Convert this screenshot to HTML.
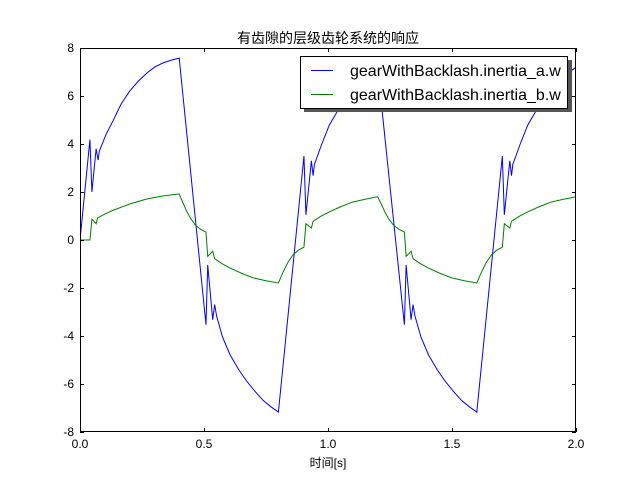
<!DOCTYPE html>
<html><head><meta charset="utf-8"><style>
html,body{margin:0;padding:0;background:#fff;}
svg text{font-family:"Liberation Sans","DejaVu Sans","Noto Sans CJK SC",sans-serif;}
</style></head><body>
<svg id="chart" width="640" height="480" xmlns="http://www.w3.org/2000/svg">
<rect width="640" height="480" fill="#fff"/>
<text x="328" y="43" font-size="14" text-anchor="middle">有齿隙的层级齿轮系统的响应</text>
<g id="plot"></g>
<text x="328" y="467" font-size="12" text-anchor="middle">时间[s]</text>
</svg>
<script>
const xTicks=[0,0.5,1.0,1.5,2.0];
const xTickLabels=["0.0","0.5","1.0","1.5","2.0"];
const yTicks=[-8,-6,-4,-2,0,2,4,6,8];
const yTickLabels=["-8","-6","-4","-2","0","2","4","6","8"];
const seriesNames=["gearWithBacklash.inertia_a.w","gearWithBacklash.inertia_b.w"];
const timeA=[0,0.040,0.048,0.065,0.073,0.078,0.105,0.133,0.165,0.20,0.235,0.27,0.30,0.335,0.37,0.40,0.508,0.515,0.535,0.543,0.551,0.575,0.605,0.64,0.672,0.705,0.739,0.77,0.80,0.903,0.911,0.933,0.94,0.945,0.975,1.005,1.04,1.072,1.105,1.139,1.17,1.2,1.308,1.315,1.335,1.343,1.351,1.375,1.405,1.44,1.472,1.505,1.539,1.57,1.6,1.703,1.711,1.733,1.74,1.745,1.775,1.805,1.84,1.872,1.905,1.939,1.97,2.0];
const valuesA=[0,4.18,2.0,3.8,3.33,3.7,4.4,4.96,5.65,6.2,6.62,6.96,7.2,7.38,7.5,7.58,-3.53,-1.04,-3.32,-2.69,-3.18,-4.05,-4.78,-5.4,-5.88,-6.3,-6.69,-6.95,-7.17,3.5,1.05,3.3,2.68,3.14,4.0,4.78,5.4,5.88,6.3,6.69,6.97,7.2,-3.53,-1.04,-3.32,-2.69,-3.18,-4.05,-4.78,-5.4,-5.88,-6.3,-6.69,-6.95,-7.17,3.5,1.05,3.3,2.68,3.14,4.0,4.78,5.4,5.88,6.3,6.69,6.97,7.2];
const timeB=[0,0.040,0.048,0.065,0.071,0.10,0.134,0.20,0.269,0.33,0.40,0.415,0.43,0.446,0.464,0.485,0.508,0.515,0.535,0.543,0.57,0.605,0.65,0.699,0.75,0.80,0.82,0.84,0.86,0.88,0.903,0.911,0.933,0.94,0.97,1.005,1.05,1.099,1.15,1.2,1.215,1.23,1.246,1.264,1.285,1.308,1.315,1.335,1.343,1.37,1.405,1.45,1.499,1.55,1.6,1.62,1.64,1.66,1.68,1.703,1.711,1.733,1.74,1.77,1.805,1.85,1.899,1.95,2.0];
const valuesB=[0,0,0.87,0.68,0.92,1.08,1.24,1.5,1.71,1.83,1.92,1.55,1.2,0.9,0.64,0.45,0.33,-0.68,-0.47,-0.78,-0.97,-1.17,-1.38,-1.58,-1.7,-1.79,-1.31,-0.9,-0.61,-0.43,-0.3,0.68,0.5,0.78,0.98,1.17,1.38,1.58,1.7,1.8,1.5,1.15,0.86,0.62,0.45,0.33,-0.68,-0.47,-0.78,-0.97,-1.17,-1.38,-1.58,-1.7,-1.79,-1.31,-0.9,-0.61,-0.43,-0.3,0.68,0.5,0.78,0.98,1.17,1.38,1.58,1.7,1.8];

const L=80,R=576,T=48,B=432;
const xS=v=>L+(v-0)/(2-0)*(R-L);
const yS=v=>B-(v+8)/16*(B-T);
const NS="http://www.w3.org/2000/svg";
const plot=document.getElementById('plot');
function mk(tag,attrs,parent){const e=document.createElementNS(NS,tag);for(const k in attrs)e.setAttribute(k,attrs[k]);(parent||plot).appendChild(e);return e;}
const defs=mk('defs',{});
const cp=mk('clipPath',{id:'clip'},defs);
mk('rect',{x:L,y:T,width:R-L,height:B-T},cp);

function drawLine(ts,vs,color,name){
  const d=ts.map((t,i)=>(i?'L':'M')+xS(t).toFixed(2)+','+yS(vs[i]).toFixed(2)).join(' ');
  const p=mk('path',{d:d,fill:'none',stroke:color,'stroke-width':1,'clip-path':'url(#clip)'});
  
  
}
drawLine(timeA,valuesA,'#0000ff','series-inertia-a');
drawLine(timeB,valuesB,'#008000','series-inertia-b');

const frame=mk('rect',{x:L+0.5,y:T+0.5,width:R-L-1,height:B-T-1,fill:'none',stroke:'#000','stroke-width':1});



xTicks.forEach((v,i)=>{
  const x=Math.round(xS(v))+0.5;
  mk('line',{x1:x,y1:B,x2:x,y2:B-4,stroke:'#000'});
  mk('line',{x1:x,y1:T,x2:x,y2:T+4,stroke:'#000'});
  const t=mk('text',{x:xS(v),y:B+16,'font-size':12,'text-anchor':'middle'});
  t.textContent=xTickLabels[i];
  
  
});
yTicks.forEach((v,i)=>{
  const y=Math.round(yS(v))+0.5;
  mk('line',{x1:L,y1:y,x2:L+4,y2:y,stroke:'#000'});
  mk('line',{x1:R,y1:y,x2:R-4,y2:y,stroke:'#000'});
  const t=mk('text',{x:L-6,y:yS(v)+4,'font-size':12,'text-anchor':'end'});
  t.textContent=yTickLabels[i];
  
  
});

const lg=mk('g',{});


mk('rect',{x:304,y:60,width:268,height:52,fill:'#555'},lg);
mk('rect',{x:300.5,y:56.5,width:267,height:52,fill:'#fff',stroke:'#000'},lg);
const colors=['#0000ff','#008000'];
seriesNames.forEach((n,i)=>{
  const y=70+i*24;
  const ln=mk('line',{x1:311,y1:y+0.5,x2:333,y2:y+0.5,stroke:colors[i]},lg);
  
  
  const t=mk('text',{x:350,y:y+6,'font-size':16},lg);
  t.textContent=n;
  
  
});
</script>
</body></html>
